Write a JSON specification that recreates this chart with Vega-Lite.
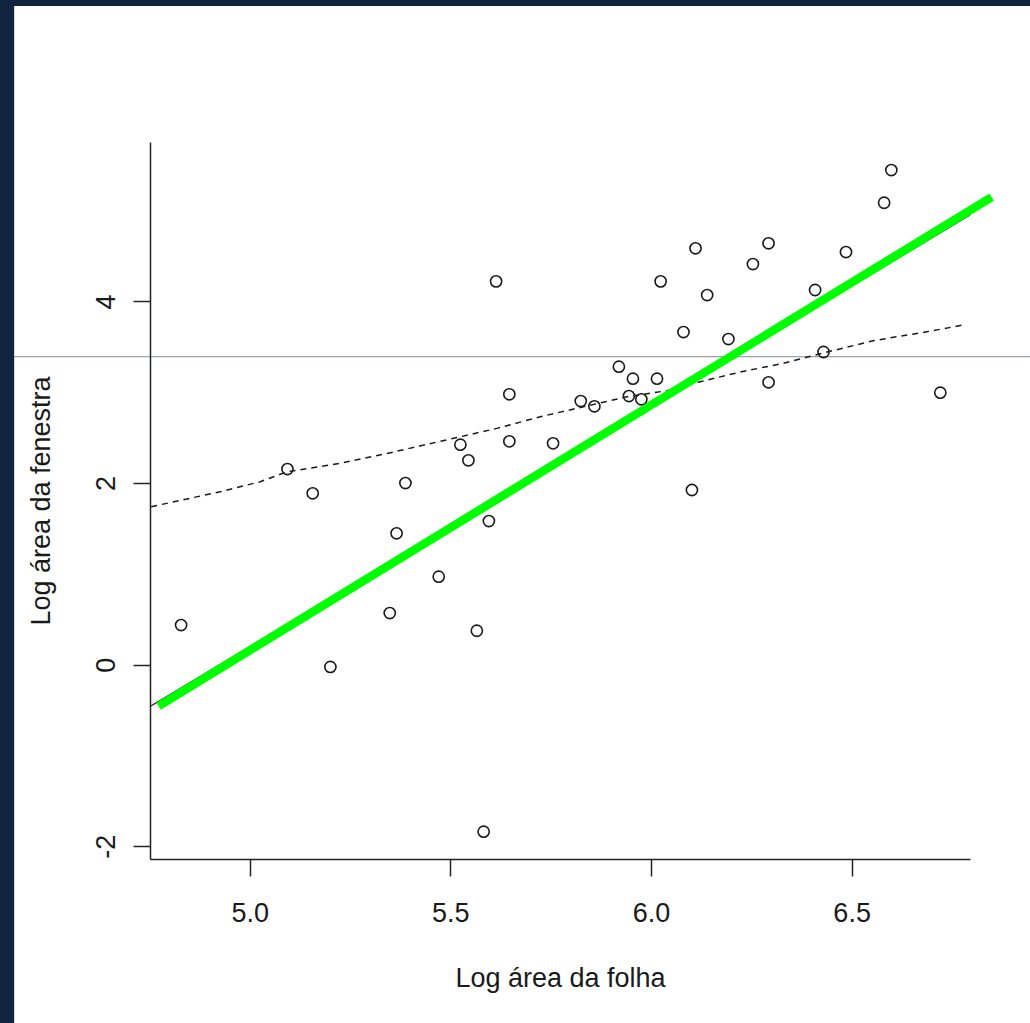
{
  "$schema": "https://vega.github.io/schema/vega-lite/v6.json",
  "autosize": {"type": "none"},
  "width": 820,
  "height": 717,
  "padding": {"left": 150, "top": 142, "right": 60, "bottom": 164},
  "background": "#102440",
  "config": {
    "view": {"stroke": null},
    "font": "Liberation Sans",
    "axis": {
      "grid": false,
      "domainColor": "#222222",
      "domainWidth": 1.5,
      "tickColor": "#222222",
      "tickWidth": 1.5,
      "tickSize": 17,
      "labelFont": "Liberation Sans",
      "labelFontSize": 27,
      "labelColor": "#1a1a1a",
      "titleFont": "Liberation Sans",
      "titleFontSize": 27,
      "titleFontWeight": "normal",
      "titleColor": "#1a1a1a",
      "labelOverlap": false,
      "labelFlush": false
    }
  },
  "datasets": {
    "one": [{"k": 1}],
    "pts": [
      {"x": 4.829, "y": 0.436},
      {"x": 5.094, "y": 2.154},
      {"x": 5.157, "y": 1.887},
      {"x": 5.201, "y": -0.026},
      {"x": 5.349, "y": 0.568},
      {"x": 5.366, "y": 1.446},
      {"x": 5.388, "y": 2.0},
      {"x": 5.471, "y": 0.968},
      {"x": 5.525, "y": 2.422},
      {"x": 5.545, "y": 2.25},
      {"x": 5.566, "y": 0.373},
      {"x": 5.583, "y": -1.84},
      {"x": 5.596, "y": 1.581},
      {"x": 5.614, "y": 4.221},
      {"x": 5.647, "y": 2.977},
      {"x": 5.647, "y": 2.459},
      {"x": 5.756, "y": 2.437},
      {"x": 5.825, "y": 2.903},
      {"x": 5.859, "y": 2.845},
      {"x": 5.92, "y": 3.281},
      {"x": 5.945, "y": 2.958},
      {"x": 5.955, "y": 3.149},
      {"x": 5.976, "y": 2.922},
      {"x": 6.015, "y": 3.149},
      {"x": 6.024, "y": 4.221},
      {"x": 6.081, "y": 3.663},
      {"x": 6.102, "y": 1.923},
      {"x": 6.111, "y": 4.585},
      {"x": 6.14, "y": 4.07},
      {"x": 6.193, "y": 3.586},
      {"x": 6.254, "y": 4.412},
      {"x": 6.293, "y": 4.64},
      {"x": 6.293, "y": 3.109},
      {"x": 6.409, "y": 4.126},
      {"x": 6.43, "y": 3.443},
      {"x": 6.486, "y": 4.544},
      {"x": 6.581, "y": 5.087},
      {"x": 6.599, "y": 5.447},
      {"x": 6.721, "y": 2.995}
    ],
    "smooth": [
      {"x": 4.7545, "y": 1.739},
      {"x": 4.9265, "y": 1.904},
      {"x": 5.026, "y": 2.014},
      {"x": 5.093, "y": 2.124},
      {"x": 5.2255, "y": 2.217},
      {"x": 5.358, "y": 2.341},
      {"x": 5.525, "y": 2.51},
      {"x": 5.616, "y": 2.602},
      {"x": 5.724, "y": 2.73},
      {"x": 5.84, "y": 2.848},
      {"x": 5.94, "y": 2.95},
      {"x": 6.04, "y": 3.017},
      {"x": 6.1226, "y": 3.116},
      {"x": 6.222, "y": 3.222},
      {"x": 6.329, "y": 3.318},
      {"x": 6.429, "y": 3.432},
      {"x": 6.554, "y": 3.567},
      {"x": 6.6875, "y": 3.666},
      {"x": 6.778, "y": 3.74}
    ],
    "fit": [
      {"x": 4.7537, "y": -0.456},
      {"x": 6.795, "y": 4.951}
    ],
    "green": [
      {"x": 4.773, "y": -0.456},
      {"x": 6.849, "y": 5.15}
    ]
  },
  "layer": [
    {
      "data": {"name": "one"},
      "mark": {"type": "rect", "fill": "#ffffff", "clip": false},
      "encoding": {
        "x": {"datum": 4.413, "type": "quantitative", "scale": {"domain": [4.7515, 6.795], "nice": false, "zero": false}},
        "x2": {"datum": 7.3},
        "y": {"datum": -4.5, "type": "quantitative", "scale": {"domain": [-2.141, 5.756], "nice": false, "zero": false}},
        "y2": {"datum": 7.2533}
      }
    },
    {
      "data": {"name": "one"},
      "mark": {"type": "rule", "color": "#828ca0", "strokeWidth": 1, "clip": false},
      "encoding": {
        "x": {"datum": 4.413, "type": "quantitative"},
        "x2": {"datum": 7.3},
        "y": {"datum": 3.391, "type": "quantitative"}
      }
    },
    {
      "data": {"name": "pts"},
      "mark": {"type": "point", "shape": "circle", "filled": false, "stroke": "#1a1a1a", "strokeWidth": 1.6, "size": 125, "opacity": 1},
      "encoding": {
        "x": {
          "field": "x", "type": "quantitative",
          "scale": {"domain": [4.7515, 6.795], "nice": false, "zero": false},
          "axis": {
            "zindex": 2,
            "title": "Log área da folha",
            "values": [5.0, 5.5, 6.0, 6.5],
            "format": ".1f",
            "labelPadding": 24,
            "labelBaseline": "top",
            "labelAlign": "center",
            "titlePadding": 39,
            "titleBaseline": "top"
          }
        },
        "y": {
          "field": "y", "type": "quantitative",
          "scale": {"domain": [-2.141, 5.756], "nice": false, "zero": false},
          "axis": {
            "zindex": 2,
            "title": "Log área da fenestra",
            "values": [-2, 0, 2, 4],
            "labelExpr": "toString(datum.value)",
            "labelAngle": -90,
            "labelAlign": "center",
            "labelBaseline": "alphabetic",
            "labelPadding": 19,
            "titleAngle": -90,
            "titleBaseline": "alphabetic",
            "titlePadding": 43
          }
        }
      }
    },
    {
      "data": {"name": "smooth"},
      "mark": {"type": "line", "color": "#1a1a1a", "strokeWidth": 1.5, "strokeDash": [6, 5]},
      "encoding": {
        "x": {"field": "x", "type": "quantitative"},
        "y": {"field": "y", "type": "quantitative"}
      }
    },
    {
      "data": {"name": "fit"},
      "mark": {"type": "line", "color": "#1a1a1a", "strokeWidth": 1.2},
      "encoding": {
        "x": {"field": "x", "type": "quantitative"},
        "y": {"field": "y", "type": "quantitative"}
      }
    },
    {
      "data": {"name": "green"},
      "mark": {"type": "line", "color": "#00ff00", "strokeWidth": 8.5, "strokeCap": "butt", "clip": false},
      "encoding": {
        "x": {"field": "x", "type": "quantitative"},
        "y": {"field": "y", "type": "quantitative"}
      }
    }
  ]
}
